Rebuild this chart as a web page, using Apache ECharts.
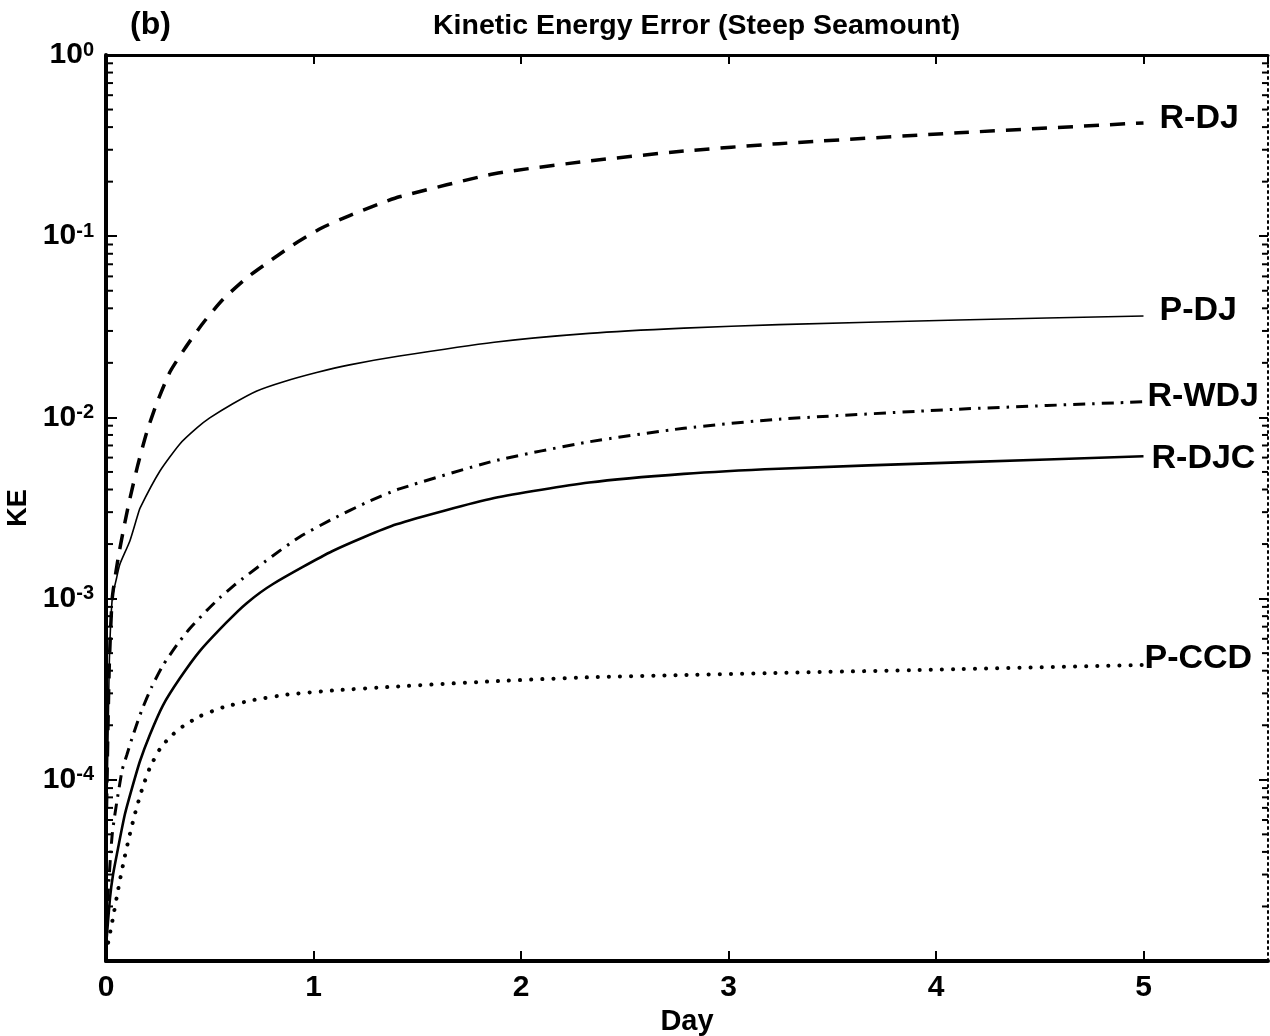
<!DOCTYPE html>
<html>
<head>
<meta charset="utf-8">
<script src="https://cdn.jsdelivr.net/npm/echarts@6/dist/echarts.min.js"></script>
<style>
html,body{margin:0;padding:0;background:#fff;overflow:hidden;}
#chart{width:1270px;height:1036px;}
</style>
</head>
<body>
<div id="chart"></div>
<script>
// ---- data (day, KE) ----
const seriesNames = ['R-DJ', 'P-DJ', 'R-WDJ', 'R-DJC', 'P-CCD'];

const rDJ = [[0,5e-5],[0.015,4e-4],[0.03,1.0e-3],[0.058,1.66e-3],[0.091,2.63e-3],[0.115,3.55e-3],[0.154,5.5e-3],[0.197,8.32e-3],[0.245,1.20e-2],[0.308,1.78e-2],[0.38,2.40e-2],[0.467,3.31e-2],[0.563,4.47e-2],[0.678,5.89e-2],[0.798,7.41e-2],[0.899,8.91e-2],[1.039,0.111],[1.174,0.130],[1.318,0.151],[1.414,0.165],[1.871,0.221],[2.328,0.260],[2.785,0.295],[3.242,0.324],[4.108,0.372],[5.0,0.422]];

const pDJ = [[0,3e-5],[0.015,4e-4],[0.03,1.0e-3],[0.051,1.3e-3],[0.067,1.55e-3],[0.115,2.08e-3],[0.149,2.79e-3],[0.164,3.16e-3],[0.26,5.06e-3],[0.356,7.14e-3],[0.438,8.75e-3],[0.5,9.93e-3],[0.611,1.19e-2],[0.727,1.40e-2],[0.852,1.57e-2],[1.015,1.77e-2],[1.174,1.95e-2],[1.414,2.18e-2],[1.871,2.60e-2],[2.328,2.91e-2],[2.785,3.11e-2],[3.242,3.25e-2],[4.108,3.45e-2],[5.0,3.63e-2]];

const rWDJ = [[0,1.5e-5],[0.03,5e-5],[0.077,1.12e-4],[0.101,1.38e-4],[0.13,1.76e-4],[0.173,2.43e-4],[0.221,3.27e-4],[0.274,4.27e-4],[0.342,5.56e-4],[0.404,6.84e-4],[0.486,8.61e-4],[0.548,1.01e-3],[0.62,1.19e-3],[0.659,1.29e-3],[0.803,1.72e-3],[0.933,2.19e-3],[1.092,2.75e-3],[1.255,3.39e-3],[1.414,4.03e-3],[1.871,5.75e-3],[2.328,7.33e-3],[2.785,8.71e-3],[3.242,9.77e-3],[4.108,1.11e-2],[5.0,1.22e-2]];

const rDJC = [[0,1.2e-5],[0.019,2.21e-5],[0.034,3.0e-5],[0.058,4.19e-5],[0.091,6.45e-5],[0.125,8.97e-5],[0.164,1.27e-4],[0.212,1.78e-4],[0.274,2.57e-4],[0.356,3.63e-4],[0.452,5.13e-4],[0.582,7.41e-4],[0.678,9.44e-4],[0.803,1.20e-3],[1.092,1.83e-3],[1.4,2.57e-3],[1.871,3.59e-3],[2.328,4.37e-3],[2.785,4.88e-3],[3.242,5.21e-3],[4.108,5.65e-3],[5.0,6.1e-3]];

const pCCD = [[0,1.1e-5],[0.034,1.74e-5],[0.053,2.29e-5],[0.067,2.79e-5],[0.091,3.80e-5],[0.115,5.01e-5],[0.139,6.46e-5],[0.173,8.81e-5],[0.212,1.17e-4],[0.26,1.48e-4],[0.308,1.72e-4],[0.37,1.97e-4],[0.452,2.24e-4],[0.563,2.51e-4],[0.707,2.75e-4],[0.871,2.95e-4],[1.092,3.11e-4],[1.38,3.26e-4],[1.871,3.5e-4],[2.328,3.68e-4],[2.785,3.79e-4],[3.242,3.89e-4],[4.108,4.08e-4],[5.0,4.3e-4]];

const xTickLabels = ['0', '1', '2', '3', '4', '5'];
const yMin = 1e-5, yMax = 1;
const xMin = 0, xMax = 5.6;

// minor log ticks (2..9 x each decade)
const minorTickVals = [];
for (let e = -5; e < 0; e++) {
  for (let m = 2; m <= 9; m++) minorTickVals.push([0, m * Math.pow(10, e)]);
}

const FONT = 'Liberation Sans, Arial, sans-serif';

const chart = echarts.init(document.getElementById('chart'), null, {renderer: 'canvas'});

function lineSeries(name, data, lineStyle, label) {
  return {
    name: name,
    type: 'line',
    data: data,
    showSymbol: false,
    symbol: 'none',
    smooth: 0.2,
    lineStyle: Object.assign({color: '#000'}, lineStyle),
    endLabel: Object.assign({
      show: true,
      formatter: '{a}',
      fontFamily: FONT,
      fontWeight: 'bold',
      fontSize: 34,
      color: '#000'
    }, label),
    z: 3
  };
}

const option = {
  animation: false,
  backgroundColor: '#fff',
  title: [
    {text: '(b)', left: 125, top: 4,
     textStyle: {fontFamily: FONT, fontWeight: 'bold', fontSize: 32, color: '#000'}},
    {text: 'Kinetic Energy Error (Steep Seamount)', left: 428, top: 7,
     textStyle: {fontFamily: FONT, fontWeight: 'bold', fontSize: 28.5, color: '#000'}}
  ],
  grid: {left: 106, right: 2, top: 55, bottom: 75, containLabel: false, outerBoundsMode: 'none'},
  xAxis: [
    {
      type: 'value', min: xMin, max: xMax, interval: 1, position: 'bottom',
      name: 'Day', nameLocation: 'middle', nameGap: 43,
      nameTextStyle: {fontFamily: FONT, fontWeight: 'bold', fontSize: 29, color: '#000'},
      axisLine: {show: true, onZero: false, lineStyle: {color: '#000', width: 4}},
      axisTick: {show: true, inside: true, length: 10, lineStyle: {color: '#000', width: 2}},
      splitLine: {show: false},
      axisLabel: {
        show: true, margin: 12, color: '#000', fontFamily: FONT, fontWeight: 'bold', fontSize: 30,
        showMaxLabel: false,
        formatter: function (v) {
          const i = Math.round(v);
          return Math.abs(v - i) < 1e-9 && i < xTickLabels.length ? xTickLabels[i] : '';
        }
      }
    },
    {
      type: 'value', min: xMin, max: xMax, interval: 1, position: 'top',
      axisLine: {show: true, onZero: false, lineStyle: {color: '#000', width: 3}},
      axisTick: {show: true, inside: true, length: 9, lineStyle: {color: '#000', width: 2}},
      axisLabel: {show: false},
      splitLine: {show: false}
    }
  ],
  yAxis: [
    {
      type: 'log', logBase: 10, min: yMin, max: yMax, position: 'left',
      name: 'KE', nameLocation: 'middle', nameGap: 72, nameRotate: 90,
      nameTextStyle: {fontFamily: FONT, fontWeight: 'bold', fontSize: 27, color: '#000'},
      axisLine: {show: true, onZero: false, lineStyle: {color: '#000', width: 4}},
      axisTick: {show: true, inside: true, length: 11, lineStyle: {color: '#000', width: 2}},
      splitLine: {show: false},
      axisLabel: {
        show: true, margin: 12, color: '#000',
        formatter: function (v) {
          const e = Math.round(Math.log10(v));
          if (e <= -5) return '';
          return '{b|10}{s|' + e + '}';
        },
        rich: {
          b: {fontFamily: FONT, fontWeight: 'bold', fontSize: 30, color: '#000', lineHeight: 30, verticalAlign: 'bottom'},
          s: {fontFamily: FONT, fontWeight: 'bold', fontSize: 20, color: '#000', lineHeight: 20, verticalAlign: 'top', padding: [0, 0, 14, 0]}
        }
      }
    },
    {
      type: 'log', logBase: 10, min: yMin, max: yMax, position: 'right',
      axisLine: {show: true, onZero: false, lineStyle: {color: '#000', width: 2, type: [2, 4]}},
      axisTick: {show: true, inside: true, length: 9, lineStyle: {color: '#000', width: 2}},
      axisLabel: {show: false},
      splitLine: {show: false}
    }
  ],
  series: [
    lineSeries('R-DJ', rDJ, {width: 3.5, type: [15, 11]}, {distance: 16, offset: [0, -4]}),
    lineSeries('P-DJ', pDJ, {width: 1.6, type: 'solid'}, {distance: 16, offset: [0, -5]}),
    lineSeries('R-WDJ', rWDJ, {width: 3, type: [12, 7, 2.5, 7]}, {distance: 4, offset: [0, -5]}),
    lineSeries('R-DJC', rDJC, {width: 2.6, type: 'solid'}, {distance: 8, offset: [0, 2]}),
    lineSeries('P-CCD', pCCD, {width: 4, type: [0.1, 11], cap: 'round'}, {distance: 1, offset: [0, -6]}),
    {
      name: 'minorTicks',
      type: 'custom',
      silent: true,
      clip: false,
      data: minorTickVals,
      encode: {x: 0, y: 1},
      renderItem: function (params, api) {
        const v = api.value(1);
        const pL = api.coord([xMin, v]);
        const pR = api.coord([xMax, v]);
        return {
          type: 'group',
          children: [
            {type: 'line', shape: {x1: pL[0], y1: pL[1], x2: pL[0] + 7, y2: pL[1]}, style: {stroke: '#000', lineWidth: 2}},
            {type: 'line', shape: {x1: pR[0] - 6, y1: pR[1], x2: pR[0], y2: pR[1]}, style: {stroke: '#000', lineWidth: 2}}
          ]
        };
      },
      z: 4
    }
  ]
};

chart.setOption(option);
</script>
</body>
</html>
